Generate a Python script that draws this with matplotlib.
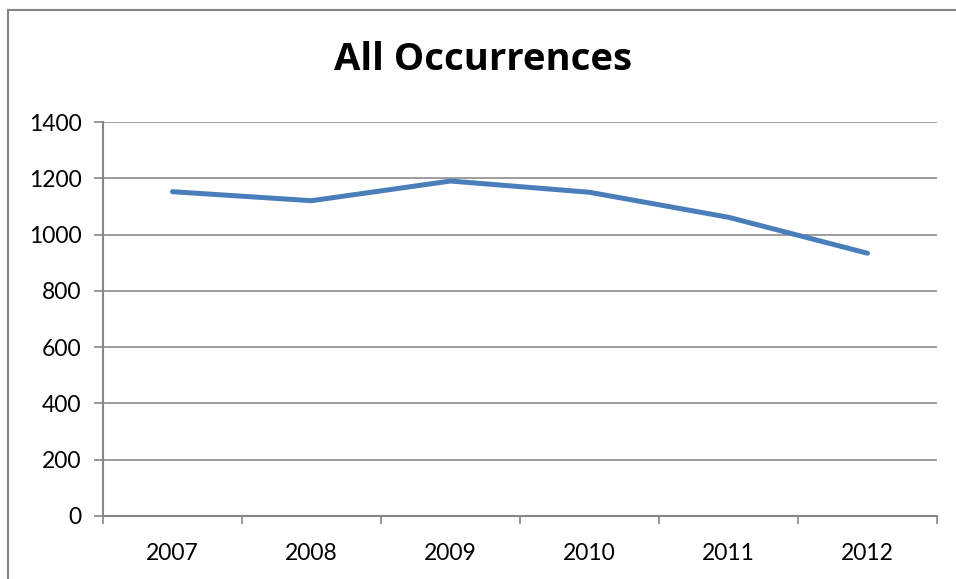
import matplotlib
matplotlib.use("Agg")
import matplotlib.pyplot as plt
from matplotlib.lines import Line2D

years = ["2007", "2008", "2009", "2010", "2011", "2012"]
occurrences = [1153, 1121, 1191, 1151, 1062, 934]
yticks = [0, 200, 400, 600, 800, 1000, 1200, 1400]

plt.rcParams['font.family'] = ['Lato', 'DejaVu Sans']

fig = plt.figure(figsize=(9.56, 5.79), dpi=100)
ax = fig.add_axes([103/956, 1-515.7/579, (937-103)/956, (515.7-122.3)/579])

x = [i + 0.5 for i in range(len(years))]
ax.plot(x, occurrences, color="#4a7ebb", linewidth=3.6, solid_capstyle="round", solid_joinstyle="round")

ax.set_xlim(0, len(years))
ax.set_ylim(0, 1400)
ax.set_yticks(yticks)
ax.set_yticklabels([str(v) for v in yticks], fontsize=16.5)
ax.set_xticks(x)
ax.set_xticklabels(years, fontsize=16.5)
ax.set_xticks(range(len(years) + 1), minor=True)
ax.tick_params(axis='x', which='major', length=0, pad=20)
ax.tick_params(axis='x', which='minor', length=6, color="#868686", width=1.2, direction='out')
ax.tick_params(axis='y', length=6.5, color="#868686", width=1.2, pad=9)
ax.grid(axis='y', color="#8c8c8c", linewidth=1.2)
ax.set_axisbelow(True)
for s in ['top', 'right']:
    ax.spines[s].set_visible(False)
for s in ['left', 'bottom']:
    ax.spines[s].set_color("#868686")
    ax.spines[s].set_linewidth(1.5)

fig.text(483/956, 1-70/579, "All Occurrences", ha='center', va='baseline',
         fontsize=27.5, fontweight='bold', family=['Open Sans', 'DejaVu Sans'])

# outer chart border
fig.add_artist(Line2D([8/956, 8/956], [0, 1-10/579], transform=fig.transFigure, color="#868686", linewidth=1.5))
fig.add_artist(Line2D([8/956, 1], [1-10/579, 1-10/579], transform=fig.transFigure, color="#868686", linewidth=1.5))

fig.savefig("out.png", dpi=100)
